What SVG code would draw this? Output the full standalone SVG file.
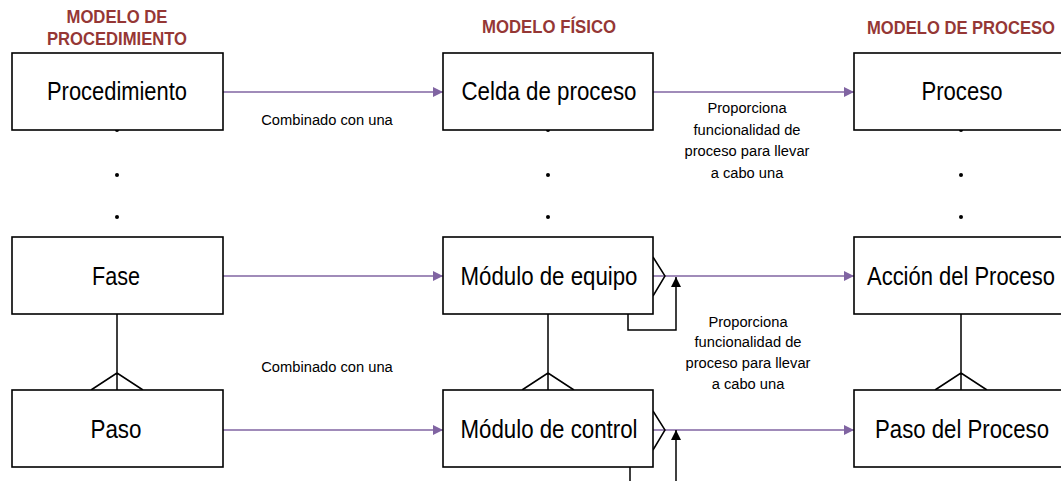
<svg xmlns="http://www.w3.org/2000/svg" width="1061" height="481" viewBox="0 0 1061 481">
<defs>
<style>
.box{fill:#fff;stroke:#000;stroke-width:1.6}
.lbl{font-family:"Liberation Sans",Arial,sans-serif;font-size:25px;fill:#000;text-anchor:middle}
.hdr{font-family:"Liberation Sans",Arial,sans-serif;font-size:17.5px;font-weight:bold;fill:#953735;text-anchor:middle}
.sm{font-family:"Liberation Sans",Arial,sans-serif;font-size:14.7px;fill:#000;text-anchor:middle}
.pl{stroke:#8064A2;stroke-width:1.6;fill:none}
.bl{stroke:#000;stroke-width:1.5;fill:none}
</style>
<marker id="pa" viewBox="0 0 10 10" refX="10" refY="5" markerWidth="10" markerHeight="10" markerUnits="userSpaceOnUse" orient="auto">
<path d="M0,0 L10,5 L0,10 z" fill="#8064A2"/>
</marker>
<marker id="ba" viewBox="0 0 10 10" refX="10" refY="5" markerWidth="11" markerHeight="10" markerUnits="userSpaceOnUse" orient="auto">
<path d="M0,0 L10,5 L0,10 z" fill="#000"/>
</marker>
</defs>
<rect width="1061" height="481" fill="#fff"/>

<g id="headers">
<text class="hdr" x="117" y="23" textLength="101" lengthAdjust="spacingAndGlyphs">MODELO DE</text>
<text class="hdr" x="117" y="45" textLength="140" lengthAdjust="spacingAndGlyphs">PROCEDIMIENTO</text>
<text class="hdr" x="549" y="33" textLength="134" lengthAdjust="spacingAndGlyphs">MODELO FÍSICO</text>
<text class="hdr" x="961" y="34" textLength="188" lengthAdjust="spacingAndGlyphs">MODELO DE PROCESO</text>
</g>

<g id="connectors">
<line class="pl" x1="223" y1="92" x2="443" y2="92" marker-end="url(#pa)"/>
<line class="pl" x1="223" y1="276" x2="443" y2="276" marker-end="url(#pa)"/>
<line class="pl" x1="223" y1="430" x2="443" y2="430" marker-end="url(#pa)"/>
<line class="pl" x1="653" y1="92" x2="854" y2="92" marker-end="url(#pa)"/>
<line class="pl" x1="653" y1="276" x2="854" y2="276" marker-end="url(#pa)"/>
<line class="pl" x1="653" y1="430" x2="854" y2="430" marker-end="url(#pa)"/>
<!-- crow's feet vertical -->
<path class="bl" d="M117,314 V390 M91,390 L117,373 L143,390"/>
<path class="bl" d="M548,314 V390 M522,390 L548,373 L574,390"/>
<path class="bl" d="M961,314 V390 M935,390 L961,373 L987,390"/>
<!-- side crow's feet -->
<path class="bl" d="M653,257 L665,276 L653,296"/>
<path class="bl" d="M653,411 L665,430 L653,450"/>
<!-- self-arrows -->
<path class="bl" d="M628,314 V330 H676 V277" marker-end="url(#ba)"/>
<line class="bl" x1="630" y1="467" x2="630" y2="481"/>
<line class="bl" x1="676" y1="481" x2="676" y2="430" marker-end="url(#ba)"/>
<!-- dots -->
<g fill="#000">
<circle cx="117" cy="130" r="2"/><circle cx="117" cy="175" r="2"/><circle cx="117" cy="217" r="2"/>
<circle cx="548" cy="130" r="2"/><circle cx="548" cy="175" r="2"/><circle cx="548" cy="217" r="2"/>
<circle cx="961" cy="130" r="2"/><circle cx="961" cy="175" r="2"/><circle cx="961" cy="217" r="2"/>
</g>
</g>

<g id="connector-labels">
<text class="sm" x="327" y="125">Combinado con una</text>
<text class="sm" x="327" y="372">Combinado con una</text>
<text class="sm" x="747" y="113">Proporciona</text>
<text class="sm" x="747" y="135">funcionalidad de</text>
<text class="sm" x="747" y="156">proceso para llevar</text>
<text class="sm" x="747" y="178">a cabo una</text>
<text class="sm" x="748" y="327">Proporciona</text>
<text class="sm" x="748" y="347">funcionalidad de</text>
<text class="sm" x="748" y="368">proceso para llevar</text>
<text class="sm" x="748" y="389">a cabo una</text>
</g>

<g id="n-procedimiento"><rect class="box" x="12" y="53" width="211" height="77"/><text class="lbl" x="117" y="100" textLength="140" lengthAdjust="spacingAndGlyphs">Procedimiento</text></g>
<g id="n-fase"><rect class="box" x="12" y="237" width="211" height="77"/><text class="lbl" x="116" y="285" textLength="48" lengthAdjust="spacingAndGlyphs">Fase</text></g>
<g id="n-paso"><rect class="box" x="12" y="390" width="211" height="77"/><text class="lbl" x="116" y="438" textLength="51" lengthAdjust="spacingAndGlyphs">Paso</text></g>

<g id="n-celda"><rect class="box" x="443" y="53" width="210" height="77"/><text class="lbl" x="549" y="100" textLength="175" lengthAdjust="spacingAndGlyphs">Celda de proceso</text></g>
<g id="n-equipo"><rect class="box" x="443" y="237" width="210" height="77"/><text class="lbl" x="549" y="285" textLength="177" lengthAdjust="spacingAndGlyphs">Módulo de equipo</text></g>
<g id="n-control"><rect class="box" x="443" y="390" width="210" height="77"/><text class="lbl" x="549" y="438" textLength="177" lengthAdjust="spacingAndGlyphs">Módulo de control</text></g>

<g id="n-proceso"><rect class="box" x="854" y="53" width="215" height="77"/><text class="lbl" x="962" y="100" textLength="81" lengthAdjust="spacingAndGlyphs">Proceso</text></g>
<g id="n-accion"><rect class="box" x="854" y="237" width="215" height="77"/><text class="lbl" x="961" y="285" textLength="188" lengthAdjust="spacingAndGlyphs">Acción del Proceso</text></g>
<g id="n-pasoproc"><rect class="box" x="854" y="390" width="215" height="77"/><text class="lbl" x="962" y="438" textLength="174" lengthAdjust="spacingAndGlyphs">Paso del Proceso</text></g>
</svg>
